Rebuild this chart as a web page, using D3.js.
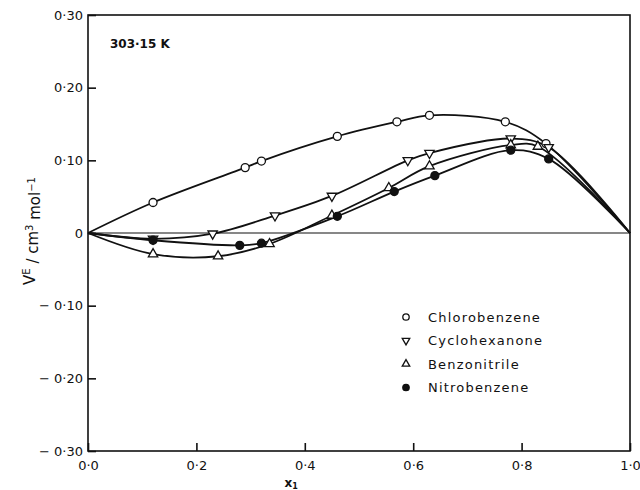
<!DOCTYPE html>
<html>
<head>
<meta charset="utf-8">
<script src="https://cdn.jsdelivr.net/npm/d3@7"></script>
<style>
  body { margin: 0; background: #fff; }
  svg text { font-family: "DejaVu Sans", sans-serif; fill: #111; }
  .axisGraph path, .axisGraph line { stroke: #111; stroke-width: 1.6; }
  .axisGraph text { font-size: 13px; }
</style>
</head>
<body>
<svg id="chart" width="640" height="490"></svg>
<script>

/************************************************************************************************************/

var xTicks = [0, 0.2, 0.4, 0.6, 0.8, 1.0];
var xTickLabels = ["0·0", "0·2", "0·4", "0·6", "0·8", "1·0"];
var yTicks = [-0.3, -0.2, -0.1, 0, 0.1, 0.2, 0.3];
var yTickLabels = ["− 0·30", "− 0·20", "− 0·10", "0", "0·10", "0·20", "0·30"];

var seriesNames = ["Chlorobenzene", "Cyclohexanone", "Benzonitrile", "Nitrobenzene"];

var chlorobenzeneX = [0.12, 0.29, 0.32, 0.46, 0.57, 0.63, 0.77, 0.845];
var chlorobenzeneY = [0.042, 0.090, 0.099, 0.133, 0.153, 0.162, 0.153, 0.123];

var cyclohexanoneX = [0.12, 0.23, 0.345, 0.45, 0.59, 0.63, 0.78, 0.85];
var cyclohexanoneY = [-0.008, -0.001, 0.024, 0.051, 0.100, 0.110, 0.130, 0.118];

var benzonitrileX = [0.12, 0.24, 0.335, 0.45, 0.555, 0.63, 0.78, 0.83];
var benzonitrileY = [-0.029, -0.032, -0.015, 0.024, 0.062, 0.092, 0.121, 0.119];

var nitrobenzeneX = [0.12, 0.28, 0.32, 0.46, 0.565, 0.64, 0.78, 0.85];
var nitrobenzeneY = [-0.010, -0.017, -0.014, 0.023, 0.057, 0.079, 0.114, 0.102];

/************************************************************************************************************/

var svg = d3.select("#chart");
svg.margin = {left: 88, top: 15, right: 10, bottom: 39};
svg.width = 640 - svg.margin.left - svg.margin.right;
svg.height = 490 - svg.margin.top - svg.margin.bottom;

var x = d3.scaleLinear().domain([0, 1]).range([0, svg.width]);
var y = d3.scaleLinear().domain([-0.3, 0.3]).range([svg.height, 0]);

var g = svg.append("g").attr("transform", "translate(" + [svg.margin.left, svg.margin.top] + ")");

// frame and zero line
g.append("rect")
  .attr("width", svg.width).attr("height", svg.height)
  .attr("fill", "none").attr("stroke", "#111").attr("stroke-width", 1.6);

g.append("line")
  .attr("x1", 0).attr("x2", svg.width)
  .attr("y1", y(0)).attr("y2", y(0))
  .attr("stroke", "#111").attr("stroke-width", 1.2);

/************************************************************************************************************/

var axisx = g.append("g").attr("class", "axisGraph")
  .attr("transform", "translate(0," + svg.height + ")")
  .call(d3.axisBottom(x).tickValues(xTicks).tickSizeInner(-8).tickSizeOuter(0)
    .tickFormat(function(d, i){ return xTickLabels[i]; }));
axisx.select(".domain").remove();
axisx.selectAll("text").attr("y", 10).attr("dy", "0.71em");

var axisy = g.append("g").attr("class", "axisGraph")
  .call(d3.axisLeft(y).tickValues(yTicks).tickSizeInner(-8).tickSizeOuter(0)
    .tickFormat(function(d, i){ return yTickLabels[i]; }));
axisy.select(".domain").remove();
axisy.selectAll("text").attr("x", -5);

//Label of the y axis
var ylabel = svg.append("text")
  .attr("transform", "translate(30," + (svg.margin.top + 216) + ") rotate(-90)")
  .attr("text-anchor", "middle")
  .attr("dy", "0.35em")
  .style("font-size", "15px");
ylabel.append("tspan").text("V");
ylabel.append("tspan").attr("dy", "-0.5em").style("font-size", "10px").text("E");
ylabel.append("tspan").attr("dy", "0.5em").text(" / cm");
ylabel.append("tspan").attr("dy", "-0.5em").style("font-size", "10px").text("3");
ylabel.append("tspan").attr("dy", "0.5em").text(" mol");
ylabel.append("tspan").attr("dy", "-0.5em").style("font-size", "10px").text("−1");

//Label of the x axis
var xlabel = svg.append("text")
  .attr("x", svg.margin.left + x(0.375))
  .attr("y", 487)
  .attr("text-anchor", "middle")
  .style("font-size", "12px").style("font-weight", "bold");
xlabel.append("tspan").text("x");
xlabel.append("tspan").attr("dy", "0.3em").style("font-size", "8px").text("1");

svg.append("text")
  .attr("x", 110).attr("y", 48)
  .style("font-size", "12px").style("font-weight", "bold")
  .text("303·15 K");

/************************************************************************************************************/

function zipSeries(xs, ys){
  return xs.map(function(d, i){ return [d, ys[i]]; });
}

var series = [
  {name: seriesNames[0], pts: zipSeries(chlorobenzeneX, chlorobenzeneY), marker: "circleOpen"},
  {name: seriesNames[1], pts: zipSeries(cyclohexanoneX, cyclohexanoneY), marker: "triDown"},
  {name: seriesNames[2], pts: zipSeries(benzonitrileX, benzonitrileY), marker: "triUp"},
  {name: seriesNames[3], pts: zipSeries(nitrobenzeneX, nitrobenzeneY), marker: "circleFill"}
];

var line = d3.line()
  .x(function(d){ return x(d[0]); })
  .y(function(d){ return y(d[1]); })
  .curve(d3.curveCatmullRom.alpha(0.5));

series.forEach(function(s){
  g.append("path")
    .attr("d", line([[0, 0]].concat(s.pts).concat([[1, 0]])))
    .attr("fill", "none").attr("stroke", "#111").attr("stroke-width", 1.8);
});

function drawMarker(sel, type, px, py, k){
  if(type === "circleOpen" || type === "circleFill"){
    sel.append("circle").attr("cx", px).attr("cy", py).attr("r", 4 * k)
      .attr("fill", type === "circleFill" ? "#111" : "#fff")
      .attr("stroke", "#111").attr("stroke-width", 1.3);
  } else {
    sel.append("path")
      .attr("d", d3.symbol().type(d3.symbolTriangle).size(38 * k * k)())
      .attr("transform", "translate(" + [px, py] + ")" + (type === "triDown" ? " rotate(180)" : ""))
      .attr("fill", "#fff").attr("stroke", "#111").attr("stroke-width", 1.3);
  }
}

series.forEach(function(s){
  s.pts.forEach(function(d){
    drawMarker(g, s.marker, x(d[0]), y(d[1]), 1);
  });
});

/************************************************************************************************************/

var legend = svg.append("g");
series.forEach(function(s, i){
  var ly = 317 + i * 23.5;
  drawMarker(legend, s.marker, 406, ly, 0.8);
  legend.append("text")
    .attr("x", 428).attr("y", ly).attr("dy", "0.35em")
    .style("font-size", "13px").style("letter-spacing", "1.2px")
    .text(s.name);
});

</script>
</body>
</html>
